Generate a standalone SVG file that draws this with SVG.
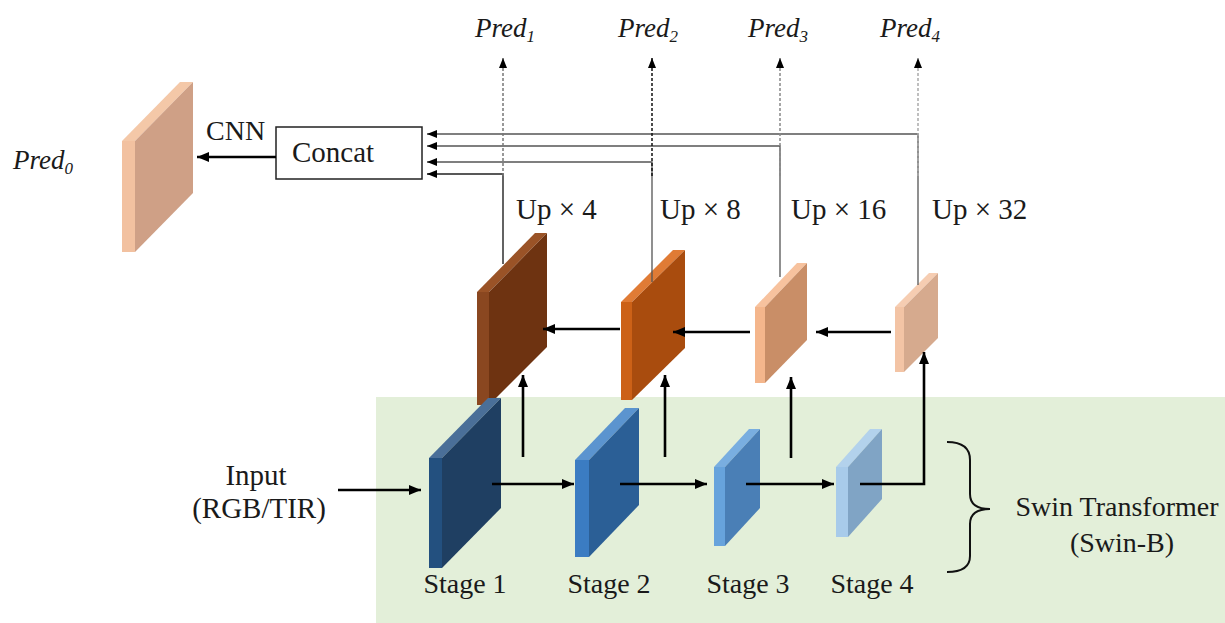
<svg xmlns="http://www.w3.org/2000/svg" width="1225" height="623" viewBox="0 0 1225 623">
<style>
text{font-family:"Liberation Serif","Times New Roman",serif;fill:#1a1a1a}
.t{font-size:29px}
.s{font-size:28px}
.p{font-size:27px;font-style:italic}
.sub{font-size:17px}
.thick{stroke:#000;stroke-width:2.6;fill:none}
.thin{stroke:#555;stroke-width:1.3;fill:none}
.dash{stroke-width:1.5;fill:none;stroke-dasharray:3 2}
</style>
<defs>
<marker id="ah" viewBox="0 0 12 10" refX="12" refY="5" markerWidth="12" markerHeight="10" markerUnits="userSpaceOnUse" orient="auto"><path d="M0,0 L12,5 L0,10 z" fill="#000"/></marker>
<marker id="ahs" viewBox="0 0 10 8" refX="10" refY="4" markerWidth="10" markerHeight="8" markerUnits="userSpaceOnUse" orient="auto"><path d="M0,0 L10,4 L0,8 z" fill="#000"/></marker>
</defs>
<rect width="1225" height="623" fill="#fff"/>
<rect id="swin-bg" x="376" y="397" width="849" height="226" fill="#e3efd9"/>

<g id="pred0-map">
<polygon points="122,141 180,82 193,82 135,141" fill="#f4c8a8"/>
<polygon points="135,141 193,82 193,193 135,252" fill="#cfa086"/>
<rect x="122" y="141" width="13" height="111" fill="#f2c1a0"/>
</g>

<g id="concat">
<rect x="276" y="127" width="146" height="52" fill="#fff" stroke="#222" stroke-width="1.5"/>
<text class="t" x="333" y="162" text-anchor="middle">Concat</text>
</g>

<g id="dec1">
<polygon points="477,292 535,233 547,233 489,292" fill="#9a5327"/>
<polygon points="489,292 547,233 547,347 489,405" fill="#6e3311"/>
<rect x="477" y="292" width="12" height="113" fill="#8a4720"/>
</g>
<g id="dec2">
<polygon points="621,302 673,250 685,250 632,302" fill="#e07b35"/>
<polygon points="632,302 685,250 685,348 632,400" fill="#a94c0e"/>
<rect x="621" y="302" width="11" height="98" fill="#cc6117"/>
</g>
<g id="dec3">
<polygon points="755,307 797,263 807,263 765,307" fill="#f7c29e"/>
<polygon points="765,307 807,263 807,340 765,383" fill="#c98e67"/>
<rect x="755" y="307" width="10" height="76" fill="#f4b68c"/>
</g>
<g id="dec4">
<polygon points="895,307 929,273 938,273 904,307" fill="#f6cdb2"/>
<polygon points="904,307 938,273 938,338 904,372" fill="#d6aa8e"/>
<rect x="895" y="307" width="9" height="65" fill="#f3c4a5"/>
</g>

<g id="stage1">
<polygon points="429,458 488,398 501,398 442,458" fill="#4a6f98"/>
<polygon points="442,458 501,398 501,508 442,568" fill="#1f3f62"/>
<rect x="429" y="458" width="13" height="110" fill="#23507f"/>
<text class="s" x="465" y="593" text-anchor="middle">Stage 1</text>
</g>
<g id="stage2">
<polygon points="575,460 625,408 639,408 589,460" fill="#5b94cf"/>
<polygon points="589,460 639,408 639,505 589,557" fill="#2b5f96"/>
<rect x="575" y="460" width="14" height="97" fill="#3b7cc2"/>
<text class="s" x="609" y="593" text-anchor="middle">Stage 2</text>
</g>
<g id="stage3">
<polygon points="714,467 749,429 760,429 725,467" fill="#79aee0"/>
<polygon points="725,467 760,429 760,508 725,546" fill="#4a7fb6"/>
<rect x="714" y="467" width="11" height="79" fill="#67a3dc"/>
<text class="s" x="748" y="593" text-anchor="middle">Stage 3</text>
</g>
<g id="stage4">
<polygon points="836,467 870,429 882,429 848,467" fill="#b3d2ec"/>
<polygon points="848,467 882,429 882,499 848,537" fill="#80a4c5"/>
<rect x="836" y="467" width="12" height="70" fill="#a8cbea"/>
<text class="s" x="872" y="593" text-anchor="middle">Stage 4</text>
</g>

<g id="input-label">
<text class="t" x="256" y="485" text-anchor="middle">Input</text>
<text class="t" x="259" y="518" text-anchor="middle">(RGB/TIR)</text>
</g>

<g id="swin-label">
<path d="M947,442 Q970,442 970,460 L970,494 Q970,509 990,509 Q970,509 970,524 L970,556 Q970,572 947,572" stroke="#111" stroke-width="2" fill="none"/>
<text class="s" x="1117" y="516" text-anchor="middle">Swin Transformer</text>
<text class="s" x="1122" y="552" text-anchor="middle">(Swin-B)</text>
</g>

<g id="labels">
<text class="p" x="13" y="169">Pred<tspan class="sub" dy="5">0</tspan></text>
<text class="p" x="475" y="37">Pred<tspan class="sub" dy="5">1</tspan></text>
<text class="p" x="618" y="37">Pred<tspan class="sub" dy="5">2</tspan></text>
<text class="p" x="748" y="37">Pred<tspan class="sub" dy="5">3</tspan></text>
<text class="p" x="880" y="37">Pred<tspan class="sub" dy="5">4</tspan></text>
<text class="t" x="516" y="219">Up × 4</text>
<text class="t" x="660" y="219">Up × 8</text>
<text class="t" x="791" y="219">Up × 16</text>
<text class="t" x="932" y="219">Up × 32</text>
<text class="s" x="206" y="140">CNN</text>
</g>

<g id="connectors">
<!-- encoder chain -->
<line class="thick" x1="338" y1="490" x2="421" y2="490" marker-end="url(#ah)"/>
<line class="thick" x1="492" y1="484" x2="574" y2="484" marker-end="url(#ah)"/>
<line class="thick" x1="620" y1="484" x2="707" y2="484" marker-end="url(#ah)"/>
<line class="thick" x1="746" y1="484" x2="834" y2="484" marker-end="url(#ah)"/>
<path class="thick" d="M860,484 L924,484 L924,352" marker-end="url(#ah)"/>
<!-- lateral up -->
<line class="thick" x1="523" y1="457" x2="523" y2="375" marker-end="url(#ah)"/>
<line class="thick" x1="665" y1="457" x2="665" y2="375" marker-end="url(#ah)"/>
<line class="thick" x1="791" y1="458" x2="791" y2="377" marker-end="url(#ah)"/>
<!-- decoder top-down -->
<line class="thick" x1="620" y1="329" x2="543" y2="329" stroke-width="2" marker-end="url(#ah)"/>
<line class="thick" x1="750" y1="332" x2="673" y2="332" stroke-width="3" marker-end="url(#ah)"/>
<line class="thick" x1="891" y1="332" x2="816" y2="332" stroke-width="3" marker-end="url(#ah)"/>
<!-- concat to pred0 -->
<line class="thick" x1="276" y1="157" x2="197" y2="157" marker-end="url(#ah)"/>
<!-- decoder to concat -->
<path d="M503,264 L503,174 L427,174" stroke="#222" stroke-width="1.4" fill="none" marker-end="url(#ahs)"/>
<path class="thin" d="M652,282 L652,162 L427,162" marker-end="url(#ahs)"/>
<path class="thin" d="M780,277 L780,146 L427,146" marker-end="url(#ahs)"/>
<path class="thin" d="M918,285 L918,134 L427,134" marker-end="url(#ahs)"/>
<!-- dashed to predictions -->
<line class="dash" x1="503" y1="176" x2="503" y2="58" stroke="#777" marker-end="url(#ahs)"/>
<line class="dash" x1="652" y1="176" x2="652" y2="58" stroke="#111" marker-end="url(#ahs)"/>
<line class="dash" x1="780" y1="176" x2="780" y2="58" stroke="#888" marker-end="url(#ahs)"/>
<line class="dash" x1="918" y1="176" x2="918" y2="58" stroke="#aaa" marker-end="url(#ahs)"/>
</g>
</svg>
